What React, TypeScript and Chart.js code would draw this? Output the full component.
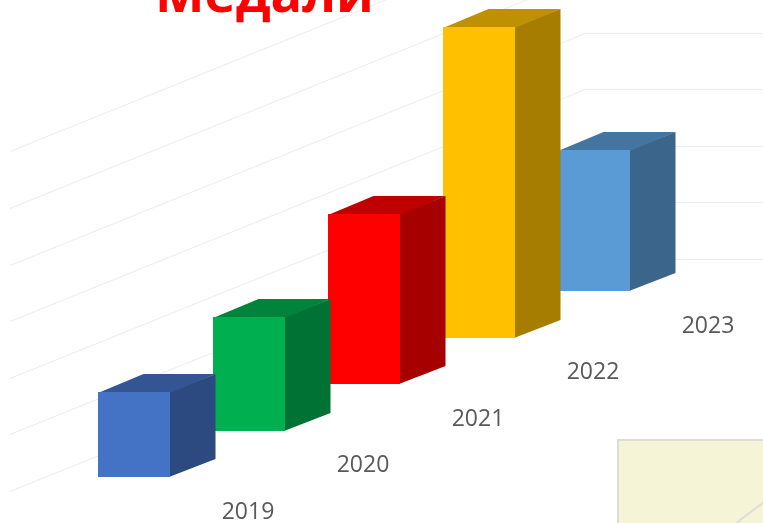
import React, { useEffect, useRef } from "react";
import { Chart, registerables } from "chart.js";

Chart.register(...registerables);

const titleText = "Медали";
const categories = ["2019", "2020", "2021", "2022", "2023"];
const medals = [1.5, 2, 3, 5.5, 2.5];
const frontColors = ["#4472C4", "#00B050", "#FF0000", "#FFC000", "#5B9BD5"];
const topColors = ["#335593", "#00843C", "#C00000", "#BF9000", "#4474A0"];
const sideColors = ["#2C4A80", "#007234", "#A60000", "#A67D00", "#3B658A"];

const DEPTH_X = 45.5;
const DEPTH_Y = 18;
const STEP_RISE = 46.4;

const bars3d = {
  id: "bars3d",
  beforeDraw(chart: any) {
    const { ctx, scales } = chart;
    const y = scales.y;
    ctx.save();
    // perspective gridlines: floor-side wall, then back wall
    ctx.lineWidth = 1;
    y.ticks.forEach((t: any) => {
      const p = Math.round(y.getPixelForValue(t.value));
      ctx.strokeStyle = "#EBEBEB";
      ctx.beginPath();
      ctx.moveTo(10, p + 14.5);
      ctx.lineTo(585, p - 217.5);
      ctx.lineTo(763, p - 217.5);
      ctx.stroke();
    });
    ctx.restore();
  },
  beforeDatasetsDraw(chart: any) {
    const { ctx } = chart;
    const meta = chart.getDatasetMeta(0);
    ctx.save();
    for (let i = meta.data.length - 1; i >= 0; i--) {
      const bar = meta.data[i];
      const rise = i * STEP_RISE;
      const l = Math.round(bar.x - bar.width / 2);
      const r = l + Math.round(bar.width);
      const t = Math.round(bar.y - rise);
      const b = Math.round(bar.base - rise);
      ctx.fillStyle = sideColors[i];
      ctx.beginPath();
      ctx.moveTo(r - 1, t);
      ctx.lineTo(r + DEPTH_X, t - DEPTH_Y);
      ctx.lineTo(r + DEPTH_X, b - DEPTH_Y);
      ctx.lineTo(r - 1, b);
      ctx.closePath();
      ctx.fill();
      ctx.fillStyle = topColors[i];
      ctx.beginPath();
      ctx.moveTo(l, t + 1);
      ctx.lineTo(l + DEPTH_X, t - DEPTH_Y);
      ctx.lineTo(r + DEPTH_X, t - DEPTH_Y);
      ctx.lineTo(r, t + 1);
      ctx.closePath();
      ctx.fill();
      ctx.fillStyle = frontColors[i];
      ctx.fillRect(l, t, r - l, b - t);
    }
    ctx.restore();
    return false;
  },
  afterDraw(chart: any) {
    const { ctx, scales } = chart;
    const x = scales.x;
    const zero = scales.y.getPixelForValue(0);
    ctx.save();
    // tick labels sit on the receding floor
    ctx.font = '23px "Open Sans"';
    ctx.fillStyle = "#595959";
    ctx.textAlign = "center";
    ctx.textBaseline = "middle";
    x.ticks.forEach((t: any, i: number) => {
      ctx.fillText(String(t.label), x.getPixelForTick(i) + 114, zero + 35 - i * STEP_RISE);
    });
    // title, cropped by the top edge
    ctx.font = 'bold 52.5px "Open Sans"';
    ctx.fillStyle = "#FF0000";
    ctx.textAlign = "center";
    ctx.textBaseline = "alphabetic";
    ctx.fillText(titleText, 264.5, 12);
    // corner of the neighbouring picture
    ctx.fillStyle = "#F5F4D6";
    ctx.strokeStyle = "#DCDCDC";
    ctx.lineWidth = 2;
    ctx.beginPath();
    ctx.rect(618, 440, 160, 100);
    ctx.fill();
    ctx.stroke();
    ctx.beginPath();
    ctx.moveTo(735, 524);
    ctx.lineTo(764, 502);
    ctx.stroke();
    ctx.restore();
  },
};

export default function App() {
  const ref = useRef<HTMLCanvasElement | null>(null);
  useEffect(() => {
    document.body.style.margin = "0";
    const chart = new Chart(ref.current as HTMLCanvasElement, {
      type: "bar",
      data: {
        labels: categories,
        datasets: [{ label: titleText, data: medals, backgroundColor: frontColors, barThickness: 72, borderWidth: 0 }],
      },
      options: {
        animation: false,
        responsive: false,
        layout: { padding: { left: 76.5, right: 111.5, top: 137.4, bottom: 46 } },
        plugins: { legend: { display: false }, tooltip: { enabled: false } },
        scales: {
          x: { display: false, type: "category" },
          y: { display: false, min: 0, max: 6, ticks: { stepSize: 1 } },
        },
      },
      plugins: [bars3d],
    } as any);
    return () => chart.destroy();
  }, []);
  return <canvas ref={ref} width={763} height={523} style={{ display: "block", width: 763, height: 523 }} />;
}
